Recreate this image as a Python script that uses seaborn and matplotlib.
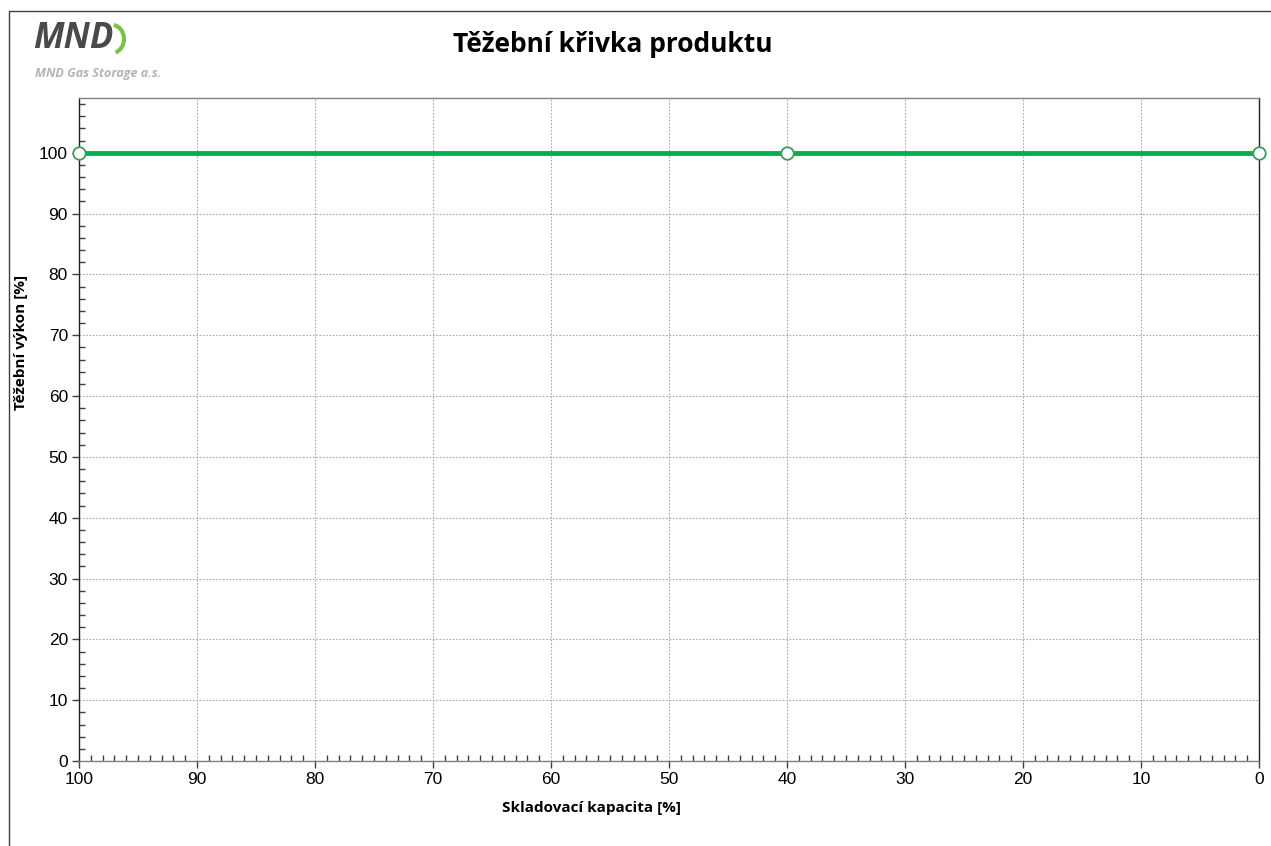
import numpy as np
import pandas as pd
import matplotlib as mpl
import matplotlib.pyplot as plt
from matplotlib.lines import Line2D
from matplotlib.patches import Arc
from matplotlib.ticker import MultipleLocator
import seaborn as sns

# data
kapacita = [100, 40, 0]
vykon = [100, 100, 100]

title = 'Těžební křivka produktu'
xlabel = 'Skladovací kapacita [%]'
ylabel = 'Těžební výkon [%]'

sns.set_style('white')
plt.rcParams['font.family'] = ['Liberation Sans', 'DejaVu Sans']
bold_font = ['Open Sans', 'DejaVu Sans']

W, H = 1271, 846
fig = plt.figure(figsize=(W / 100, H / 100), dpi=100)
ax = fig.add_axes([79 / W, (H - 761) / H, (1259 - 79) / W, (761 - 98) / H])

df = pd.DataFrame({'x': kapacita, 'y': vykon})
sns.lineplot(data=df, x='x', y='y', ax=ax, color='#00B050', linewidth=3.5,
             marker='o', markersize=9, markerfacecolor='white',
             markeredgecolor='#3c9c60', markeredgewidth=1.3, zorder=5,
             clip_on=False)

ax.set_xlim(100, 0)
ax.set_ylim(0, 109)
ax.xaxis.set_major_locator(MultipleLocator(10))
ax.xaxis.set_minor_locator(MultipleLocator(1))
ax.yaxis.set_major_locator(MultipleLocator(10))
ax.yaxis.set_minor_locator(MultipleLocator(2))
ax.tick_params(which='major', direction='out', length=5, width=1, color='#404040',
               labelsize=12.5, labelcolor='black', pad=3)
ax.tick_params(which='minor', direction='in', length=4, width=1, color='#404040')
ax.tick_params(axis='x', which='both', bottom=True)
ax.tick_params(axis='y', which='both', left=True)

ax.grid(True, which='major', linestyle=(0, (1.5, 1.5)), color='#a8a8a8', linewidth=0.8)
ax.set_axisbelow(True)

ax.spines['left'].set_color('#202020')
ax.spines['right'].set_color('#202020')
ax.spines['bottom'].set_color('#808080')
ax.spines['top'].set_color('#808080')
for s in ax.spines.values():
    s.set_linewidth(1)

ax.set_xlabel('')
ax.set_ylabel('')
fig.text(591 / W, 1 - 808 / H, xlabel, ha='center', va='center', fontsize=11,
         fontweight='bold', family=bold_font, color='black')
fig.text(21 / W, 1 - 342 / H, ylabel, ha='center', va='center', fontsize=11,
         fontweight='bold', family=bold_font, color='black', rotation=90)

fig.text(613 / W, 1 - 45 / H, title, ha='center', va='center', fontsize=19,
         fontweight='bold', family=bold_font, color='black')

# logo
fig.text(33 / W, 1 - 39 / H, 'MND', ha='left', va='center', fontsize=25,
         fontweight='bold', style='italic', color='#4a4a4a', family=bold_font)
fig.text(35 / W, 1 - 73 / H, 'MND Gas Storage a.s.', ha='left', va='center', fontsize=9,
         fontweight='bold', style='italic', color='#b4b4b4', family=bold_font)
arc = Arc((112 / W, 1 - 39 / H), 24 / W, 28 / H, theta1=-80, theta2=85,
          transform=fig.transFigure, color='#7cc242', linewidth=3)
fig.add_artist(arc)

# outer chart border
fig.add_artist(Line2D([9 / W, 1], [1 - 11 / H, 1 - 11 / H], color='#404040', linewidth=1))
fig.add_artist(Line2D([9 / W, 9 / W], [0, 1 - 11 / H], color='#404040', linewidth=1))

fig.savefig('out.png', dpi=100, facecolor='white')
